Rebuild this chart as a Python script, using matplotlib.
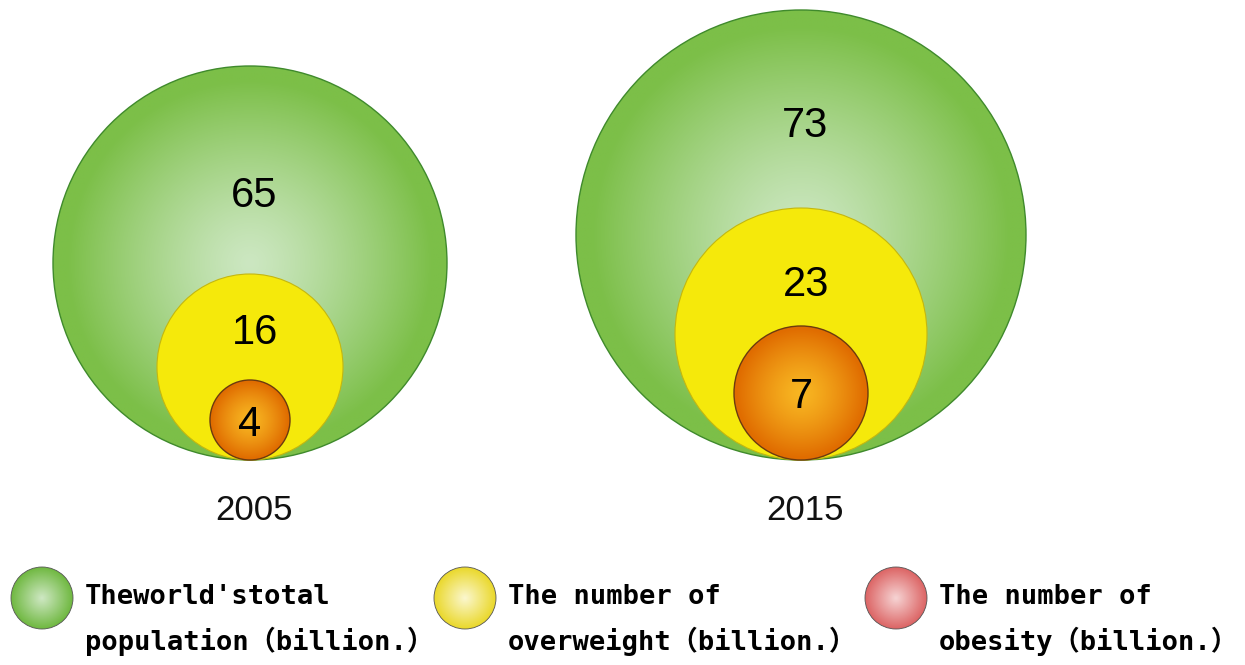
import numpy as np
import matplotlib
matplotlib.use("Agg")
import matplotlib.pyplot as plt
from matplotlib.patches import Circle
from matplotlib.colors import to_rgb

# data
years = ["2005", "2015"]
total_pop = [65, 73]
overweight = [16, 23]
obesity = [4, 7]
legend_labels = [
    "Theworld'stotal\npopulation（billion.）",
    "The number of\noverweight（billion.）",
    "The number of\nobesity（billion.）",
]

# layout (pixel coords, y down)
group_x = [250, 801]
base_y = 460
r_total = [197, 225]
r_over = [93, 126]
r_obes = [40, 67]
lab_y_total = [193, 123]
lab_y_over = [330, 282]
lab_y_obes = [422, 394]


def radial_circle(ax, cx, cy, r, c_in, c_out, stop=1.0, power=1.0, edge=None, lw=1.0, z=1):
    n = 240
    xs = np.linspace(-1, 1, n)
    xx, yy = np.meshgrid(xs, xs)
    t = np.clip(np.sqrt(xx**2 + yy**2) / stop, 0, 1) ** power
    a, b = np.array(to_rgb(c_in)), np.array(to_rgb(c_out))
    img = a[None, None, :] * (1 - t[..., None]) + b[None, None, :] * t[..., None]
    im = ax.imshow(img, extent=(cx - r, cx + r, cy + r, cy - r), zorder=z,
                   interpolation="bilinear")
    clip = Circle((cx, cy), r, transform=ax.transData, facecolor="none", edgecolor="none")
    ax.add_patch(clip)
    im.set_clip_path(clip)
    if edge is not None:
        ax.add_patch(Circle((cx, cy), r, facecolor="none", edgecolor=edge, lw=lw, zorder=z + 0.5))


fig = plt.figure(figsize=(12.45, 6.65), dpi=100)
ax = fig.add_axes([0, 0, 1, 1])
ax.set_xlim(0, 1245)
ax.set_ylim(665, 0)
ax.axis("off")

num_font = dict(family="Liberation Sans", fontsize=30, ha="center", va="center", color="black")

for i, yr in enumerate(years):
    x = group_x[i]
    # total population
    rt = r_total[i]
    radial_circle(ax, x, base_y - rt, rt, "#cce7c1", "#7cbf48", stop=0.93, power=1.25,
                  edge="#3f8a2c", lw=1.0, z=1)
    # overweight
    ro = r_over[i]
    ax.add_patch(Circle((x, base_y - ro), ro, facecolor="#f5e90b",
                        edgecolor="#c4b70f", lw=0.8, zorder=3))
    # obesity
    rb = r_obes[i]
    radial_circle(ax, x, base_y - rb, rb, "#f8b622", "#e06c00", stop=0.97, power=1.3,
                  edge="#6b3a10", lw=1.0, z=4)

    ax.text(x + 4, lab_y_total[i] + 3, str(total_pop[i]), zorder=6, **num_font)
    ax.text(x + 5, lab_y_over[i] + 3, str(overweight[i]), zorder=6, **num_font)
    ax.text(x, lab_y_obes[i] + 3, str(obesity[i]), zorder=6, **num_font)
    ax.text(x + 4, 510, yr, family="Liberation Sans", fontsize=25, ha="center",
            va="center", color="#111111")

# legend
leg_x = [42, 465, 896]
leg_y = 598
leg_r = 31
leg_cols = [("#cfe8c4", "#6fb840"), ("#fbf7cf", "#ead82a"), ("#f6d4d4", "#dc6464")]
for i, lab in enumerate(legend_labels):
    radial_circle(ax, leg_x[i], leg_y, leg_r, leg_cols[i][0], leg_cols[i][1], power=1.0,
                  edge="#555555", lw=0.6, z=2)
    ax.text(leg_x[i] + 43, 620, lab, family=["DejaVu Sans Mono", "Noto Sans CJK SC"],
            fontsize=19.5, fontweight="bold", ha="left", va="center",
            linespacing=1.7, color="black")

fig.savefig("out.png", dpi=100)
